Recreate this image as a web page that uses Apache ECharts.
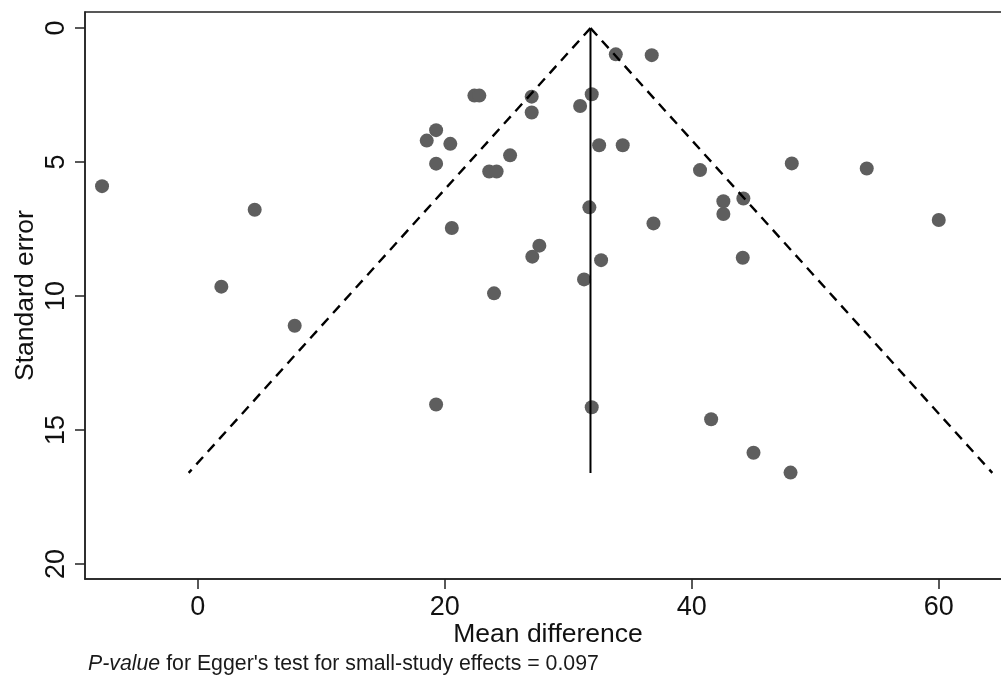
<!DOCTYPE html>
<html>
<head>
<meta charset="utf-8">
<title>Funnel plot</title>
<script src="https://cdn.jsdelivr.net/npm/echarts@6/dist/echarts.min.js"></script>
<style>
  html, body { margin: 0; padding: 0; background: #ffffff; }
  #chart { width: 1001px; height: 684px; }
</style>
</head>
<body>
<div id="chart"></div>
<script>
// Study estimates: mean difference and its standard error
const meanDiff = [
  -7.75, 4.61, 1.91, 7.85, 19.3, 19.3, 18.54, 20.45, 19.3, 25.29,
  23.6, 24.2, 20.57, 23.99, 27.04, 22.4, 22.8, 27.04, 30.96, 31.9,
  33.85, 36.76, 32.5, 34.41, 40.67, 48.1, 54.17, 42.56, 42.56, 44.18,
  60.0, 31.71, 36.9, 27.66, 27.09, 32.66, 44.13, 31.28, 31.9, 41.57,
  45.0, 48.0
];
const stdError = [
  5.90, 6.78, 9.65, 11.11, 14.05, 3.81, 4.20, 4.32, 5.06, 4.75,
  5.35, 5.35, 7.46, 9.90, 3.15, 2.52, 2.52, 2.56, 2.91, 2.47,
  0.98, 1.01, 4.37, 4.37, 5.30, 5.05, 5.24, 6.46, 6.94, 6.36,
  7.16, 6.69, 7.29, 8.12, 8.53, 8.66, 8.57, 9.38, 14.15, 14.6,
  15.85, 16.59
];

// Pooled estimate and the largest standard error spanned by the funnel
const pooledEstimate = 31.8;
const funnelMaxSE = 16.6;

// Axis tick values
const xTicks = [0, 20, 40, 60];
const yTicks = [0, 5, 10, 15, 20];

const points = meanDiff.map((x, i) => [x, stdError[i]]);
const verticalLine = [[pooledEstimate, 0], [pooledEstimate, funnelMaxSE]];
// 95% pseudo-confidence limits: pooled ± 1.96·SE
const leftLimit = [[pooledEstimate, 0], [pooledEstimate - 1.96 * funnelMaxSE, funnelMaxSE]];
const rightLimit = [[pooledEstimate, 0], [pooledEstimate + 1.96 * funnelMaxSE, funnelMaxSE]];

const FONT = '"Liberation Sans", Arial, Helvetica, sans-serif';
const INK = '#222222';

const chart = echarts.init(document.getElementById('chart'), null, { renderer: 'canvas' });

chart.setOption({
  backgroundColor: '#ffffff',
  animation: false,
  textStyle: { fontFamily: FONT },
  title: {
    left: 88,
    top: 654,
    padding: 0,
    text: "{i|P-value} for Egger's test for small-study effects = 0.097",
    textStyle: {
      fontFamily: FONT,
      fontSize: 21.3,
      fontWeight: 'normal',
      color: '#1a1a1a',
      rich: {
        i: { fontFamily: FONT, fontSize: 21.3, fontStyle: 'italic', color: '#1a1a1a' }
      }
    }
  },
  grid: {
    left: 85,
    top: 12,
    right: -10,
    bottom: 105,
    outerBoundsMode: 'none',
    containLabel: false,
    show: true,
    borderColor: INK,
    borderWidth: 1.5,
    backgroundColor: '#ffffff'
  },
  xAxis: {
    type: 'value',
    min: -9.13,
    max: 65.85,
    name: 'Mean difference',
    nameLocation: 'middle',
    nameGap: 42,
    nameMoveOverlap: false,
    nameTextStyle: { fontFamily: FONT, fontSize: 26.5, color: '#111' },
    splitLine: { show: false },
    axisLine: { show: true, onZero: false, lineStyle: { color: INK, width: 1.5 } },
    axisTick: {
      show: true, length: 10, inside: false,
      customValues: xTicks,
      lineStyle: { color: INK, width: 1.5 }
    },
    axisLabel: {
      customValues: xTicks,
      margin: 15,
      fontFamily: FONT,
      fontSize: 27,
      color: '#111'
    }
  },
  yAxis: {
    type: 'value',
    inverse: true,
    min: -0.6,
    max: 20.56,
    name: 'Standard error',
    nameLocation: 'middle',
    nameRotate: 90,
    nameGap: 46,
    nameMoveOverlap: false,
    nameTextStyle: { fontFamily: FONT, fontSize: 26.5, color: '#111' },
    splitLine: { show: false },
    axisLine: { show: true, onZero: false, lineStyle: { color: INK, width: 1.5 } },
    axisTick: {
      show: true, length: 10, inside: false,
      customValues: yTicks,
      lineStyle: { color: INK, width: 1.5 }
    },
    axisLabel: {
      customValues: yTicks,
      rotate: 90,
      margin: 15,
      fontFamily: FONT,
      fontSize: 27,
      color: '#111'
    }
  },
  series: [
    {
      name: 'Studies',
      type: 'scatter',
      data: points,
      symbol: 'circle',
      symbolSize: 14,
      itemStyle: { color: '#5e5e5e', opacity: 1 },
      z: 2
    },
    {
      name: 'Pooled estimate',
      type: 'line',
      data: verticalLine,
      showSymbol: false,
      symbol: 'none',
      lineStyle: { color: '#000', width: 2, type: 'solid' },
      z: 3
    },
    {
      name: 'Lower limit',
      type: 'line',
      data: leftLimit,
      showSymbol: false,
      symbol: 'none',
      lineStyle: { color: '#000', width: 2.4, type: [10, 7] },
      z: 3
    },
    {
      name: 'Upper limit',
      type: 'line',
      data: rightLimit,
      showSymbol: false,
      symbol: 'none',
      lineStyle: { color: '#000', width: 2.4, type: [10, 7] },
      z: 3
    }
  ]
});
</script>
</body>
</html>
